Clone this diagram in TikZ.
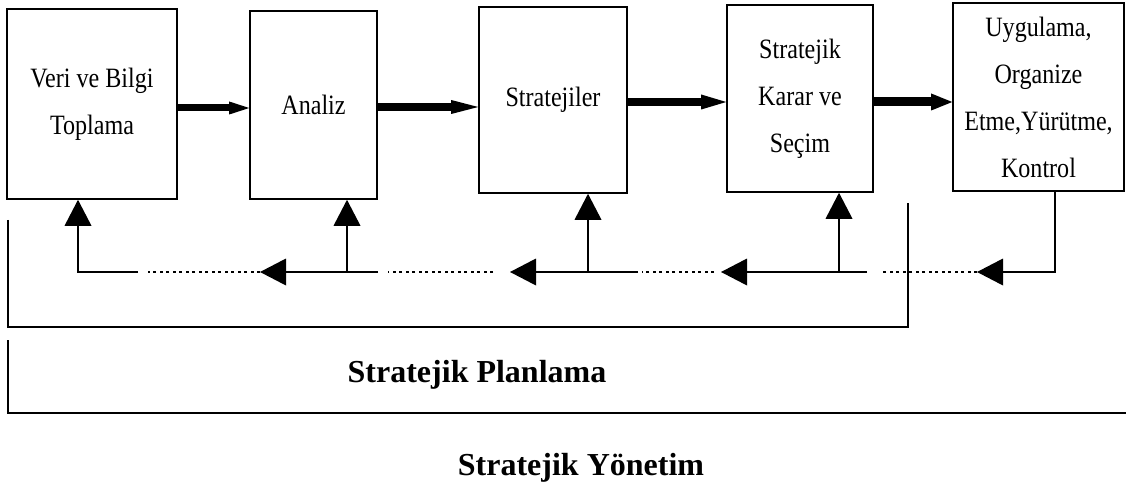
\documentclass[tikz,border=0pt]{standalone}
\usepackage{fontspec}
\setmainfont{Liberation Serif}
\newfontfamily\boxfont[FakeStretch=0.86]{Liberation Serif}
\usetikzlibrary{arrows.meta}
\begin{document}
\begin{tikzpicture}[x=1pt,y=-1pt,
  stage/.style={draw,line width=1.6pt,inner sep=0pt,align=center,
    font=\boxfont\fontsize{28}{47}\selectfont},
  flow/.style n args={3}{line width=#1,
    -{Triangle[length=#2,width=#3,line width=0pt]}},
  fb/.style={line width=1.8pt},
  fbarrow/.style={fb,-{Triangle[length=26pt,width=27pt,line width=0pt]}},
  dots/.style={line width=1.6pt,dash pattern=on 3pt off 3.5pt},
  bracket/.style={line width=1.8pt},
  title/.style={anchor=base,font=\fontsize{32}{38}\selectfont\bfseries}]
\useasboundingbox (0,0) rectangle (1126,486);

% process stages
\node[stage,minimum width=170pt,minimum height=190pt] (b1) at (92,104)
  {Veri ve Bilgi\\Toplama};
\node[stage,minimum width=127pt,minimum height=188pt] (b2) at (313.5,105)
  {Analiz};
\node[stage,minimum width=148pt,minimum height=186pt] (b3) at (553,100)
  {Stratejiler};
\node[stage,minimum width=146pt,minimum height=187pt] (b4) at (800,98.5)
  {Stratejik\\Karar ve\\Seçim};
\node[stage,minimum width=171pt,minimum height=188pt] (b5) at (1038.5,97)
  {Uygulama,\\Organize\\Etme,Yürütme,\\Kontrol};

% forward flow
\draw[flow={7pt}{20pt}{13pt}] (b1.east |- 0,108) -- (b2.west |- 0,108);
\draw[flow={8pt}{27pt}{14pt}] (b2.east |- 0,107) -- (b3.west |- 0,107);
\draw[flow={8pt}{25pt}{15pt}] (b3.east |- 0,102) -- (b4.west |- 0,102);
\draw[flow={9pt}{21pt}{17pt}] (b4.east |- 0,102) -- (b5.west |- 0,102);

% feedback line
\coordinate (k5) at (1055,272);
\coordinate (t4) at (977,272);
\coordinate (d4) at (883,272);
\coordinate (s4) at (867,272);
\coordinate (j4) at (839,272);
\coordinate (t3) at (721,272);
\coordinate (d3a) at (714,272);
\coordinate (d3b) at (642,272);
\coordinate (s3) at (638,272);
\coordinate (j3) at (588,272);
\coordinate (t2) at (510,272);
\coordinate (d2a) at (493,272);
\coordinate (d2b) at (388,272);
\coordinate (s2) at (378,272);
\coordinate (j2) at (347,272);
\coordinate (t1) at (260,272);
\coordinate (d1) at (148,272);
\coordinate (s1) at (138,272);
\coordinate (k1) at (78,272);

\draw[fbarrow] (b5.south -| k5) -- (k5) -- (t4);
\draw[dots] (t4) -- (d4);
\draw[fbarrow] (s4) -- (t3);
\draw[fbarrow] (j4) -- (b4.south -| j4);
\draw[dots] (d3a) -- (d3b);
\draw[fbarrow] (s3) -- (t2);
\draw[fbarrow] (j3) -- (b3.south -| j3);
\draw[dots] (d2a) -- (d2b);
\draw[fbarrow] (s2) -- (t1);
\draw[fbarrow] (j2) -- (b2.south -| j2);
\draw[dots] (t1) -- (d1);
\draw[fbarrow] (s1) -- (k1) -- (b1.south -| k1);

% scope brackets
\draw[bracket] (8,220) |- (908,327) -- (908,203);
\draw[bracket] (8,340) |- (1126,413);

\node[title] (plan) at (477,382) {Stratejik Planlama};
\node[title] (yon) at (581,475) {Stratejik Yönetim};
\end{tikzpicture}
\end{document}
